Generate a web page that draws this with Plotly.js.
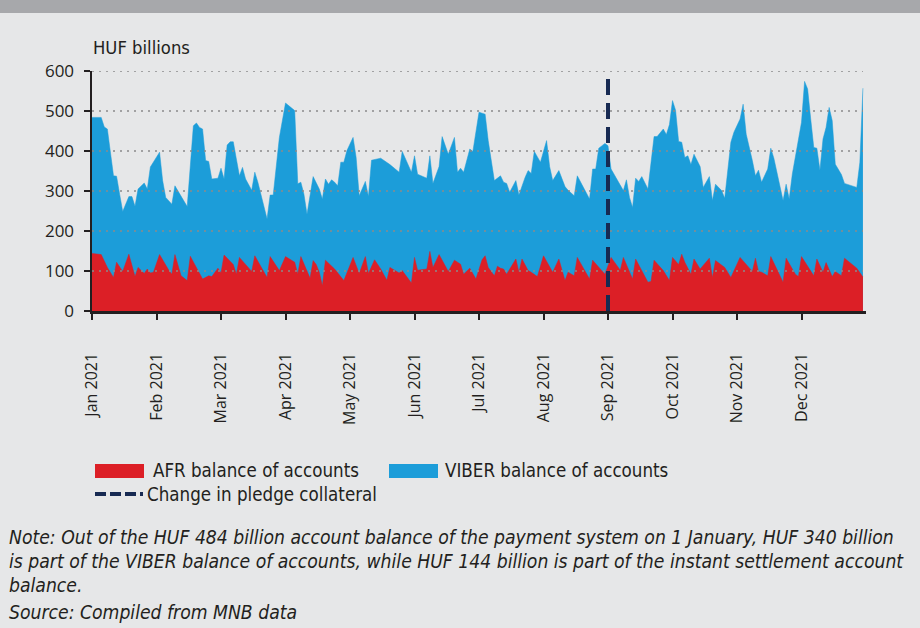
<!DOCTYPE html>
<html><head><meta charset="utf-8">
<script src="https://cdn.plot.ly/plotly-3.0.1.min.js"></script>
<style>html,body{margin:0;padding:0;background:#e6e7e8;overflow:hidden}#chart{width:920px;height:628px}</style>
</head><body><div id="chart"></div>
<script>
// Month tick labels (category axis of business days, one tick every 21 business days)
const monthLabels = ['Jan 2021','Feb 2021','Mar 2021','Apr 2021','May 2021','Jun 2021','Jul 2021','Aug 2021','Sep 2021','Oct 2021','Nov 2021','Dec 2021'];
const monthTickDays = [0,21,42,63,84,105,126,147,168,189,210,231];
const lastDay = [252];

// AFR (instant settlement) balance of accounts, HUF billions, by business day
const afrDay = [0,3,5,7,8,10,12,14,15,17,18,19,20,22,25,26,27,29,31,32,36,38,39,41,42,43,46,47,48,52,53,57,58,61,63,66,67,68,71,72,73,74,75,76,79,82,85,87,89,90,92,94,96,97,100,101,104,105,106,109,110,111,113,116,118,120,121,123,125,127,128,129,131,132,133,134,135,138,139,140,142,143,145,147,150,152,154,155,157,158,162,163,167,169,172,173,176,177,181,182,183,186,188,189,191,192,193,195,196,198,201,202,203,206,208,211,215,216,217,218,220,221,225,226,229,230,231,235,236,238,239,241,242,244,245,249,251];
const afrValue = [144,141,109,84,122,99,142,86,109,94,105,95,97,141,102,92,141,88,76,137,80,88,86,107,95,140,116,92,134,99,138,84,136,101,136,122,92,136,82,126,116,97,63,127,105,76,134,94,136,94,128,105,77,109,95,101,70,134,102,105,149,109,141,99,127,117,92,107,80,128,138,109,88,112,107,105,92,130,97,130,101,97,86,138,97,130,76,97,88,134,80,127,92,134,102,134,80,130,72,74,127,101,76,134,116,142,122,92,130,105,132,84,126,109,84,134,99,132,99,97,88,136,72,132,92,86,136,88,130,97,121,86,99,88,132,107,85];

// Total payment-system balance (AFR + VIBER), HUF billions, by business day
const totalDay = [0,3,4,5,7,8,9,10,12,13,14,15,17,18,19,22,23,24,26,27,31,33,34,35,36,37,38,39,41,42,43,44,45,46,47,48,49,50,52,53,54,55,57,58,59,61,63,66,67,68,69,70,72,74,75,76,77,78,79,80,81,82,83,85,86,87,89,90,91,94,96,97,100,101,104,105,106,109,110,111,113,114,116,118,119,120,121,123,124,126,128,129,131,133,134,135,136,138,139,140,141,142,143,144,146,148,149,150,152,154,155,157,158,162,163,164,165,167,168,169,170,172,173,174,175,176,177,178,179,181,182,183,184,186,187,188,189,190,191,192,193,194,195,196,198,199,201,202,203,205,206,207,208,209,211,212,213,215,216,217,218,220,221,222,225,226,227,228,229,231,232,233,234,235,236,237,238,239,240,241,242,244,245,249,250,251];
const totalValue = [484,484,460,455,338,337,292,249,286,286,262,305,320,305,360,397,326,284,267,313,261,463,470,459,455,376,374,330,332,357,330,415,423,423,380,338,359,330,302,347,322,292,230,290,290,434,520,501,318,322,292,242,336,305,280,330,317,328,322,313,372,372,401,434,384,288,324,286,377,382,372,366,347,399,347,388,342,332,388,319,361,436,392,434,347,357,347,405,399,497,492,426,326,338,322,319,297,326,290,313,334,351,344,399,372,426,361,326,351,311,302,288,338,280,355,355,407,419,413,355,342,317,301,328,284,259,332,324,336,305,376,436,436,455,441,466,526,502,424,422,384,388,366,392,361,309,336,276,317,301,282,359,422,447,480,517,442,376,338,352,322,355,407,382,276,317,280,342,384,472,574,555,480,409,407,352,430,459,509,476,367,341,319,309,372,557];

const yTickValues = [0,100,200,300,400,500,600];
const pledgeChangeDay = [monthTickDays[monthLabels.indexOf('Sep 2021')]];

const RED = '#dc1f26', BLUE = '#1c9dd9', NAVY = '#172a52', INK = '#231f20';
const L = 92, T = 71, W = 774, H = 240;
const px = x => (x - L) / W;
const py = y => (T + H - y) / H;
const condFont = 'DejaVu Sans Condensed, DejaVu Sans, sans-serif';

const traces = [
  {x: totalDay, y: totalValue, type: 'scatter', mode: 'lines', fill: 'tozeroy',
   fillcolor: BLUE, line: {color: BLUE, width: 0.5}, hoverinfo: 'skip', name: 'VIBER balance of accounts'},
  {x: afrDay, y: afrValue, type: 'scatter', mode: 'lines', fill: 'tozeroy',
   fillcolor: RED, line: {color: RED, width: 0.5}, hoverinfo: 'skip', name: 'AFR balance of accounts'}
];

const shapes = [];
// header bar
shapes.push({type: 'rect', xref: 'paper', yref: 'paper', x0: px(0), x1: px(920), y0: py(0), y1: py(13),
  fillcolor: '#a7a8ab', line: {width: 0}, layer: 'below'});
// dotted gridlines above the areas
yTickValues.filter(v => v > 0).forEach(v => shapes.push({type: 'line', xref: 'paper', yref: 'y',
  x0: 0, x1: px(863), y0: v, y1: v, line: {color: '#8a8a8a', width: 1.6, dash: '2px,5px'}, layer: 'above'}));
// pledge collateral change
pledgeChangeDay.forEach(d => shapes.push({type: 'line', xref: 'x', yref: 'y', x0: d, x1: d, y0: 0, y1: yTickValues[yTickValues.length-1],
  line: {color: NAVY, width: 4, dash: '16px,8px'}, layer: 'above'}));
// legend swatches
shapes.push({type: 'rect', xref: 'paper', yref: 'paper', x0: px(95), x1: px(144), y0: py(478), y1: py(464), fillcolor: RED, line: {width: 0}});
shapes.push({type: 'rect', xref: 'paper', yref: 'paper', x0: px(389), x1: px(438), y0: py(478), y1: py(464), fillcolor: BLUE, line: {width: 0}});
shapes.push({type: 'line', xref: 'paper', yref: 'paper', x0: px(95), x1: px(143), y0: py(494), y1: py(494), line: {color: NAVY, width: 4, dash: '11px,4px'}});

const ann = (text, x, y, size, extra) => Object.assign({text: text, xref: 'paper', yref: 'paper', x: px(x), y: py(y),
  xanchor: 'left', yanchor: 'middle', showarrow: false, font: {family: condFont, size: size, color: INK}}, extra || {});
const annotations = [
  ann('HUF billions', 91, 48, 18.3),
  ann('AFR balance of accounts', 151, 471, 18.6),
  ann('VIBER balance of accounts', 443, 471, 18.6),
  ann('Change in pledge collateral', 145, 494, 18.6),
  ann('<i>Note: Out of the HUF 484 billion account balance of the payment system on 1 January, HUF 340 billion</i>', 7, 537, 19.2),
  ann('<i>is part of the VIBER balance of accounts, while HUF 144 billion is part of the instant settlement account</i>', 7, 561, 19.2),
  ann('<i>balance.</i>', 7, 585, 19.2),
  ann('<i>Source: Compiled from MNB data</i>', 7, 612, 19.2)
];

const layout = {
  width: 920, height: 628, autosize: false,
  margin: {l: L, r: 920 - L - W, t: T, b: 628 - T - H, pad: 0},
  paper_bgcolor: '#e6e7e8', plot_bgcolor: 'rgba(0,0,0,0)',
  showlegend: false,
  xaxis: {range: [0, lastDay[0]], tickmode: 'array', tickvals: monthTickDays, ticktext: monthLabels,
    tickangle: -90, ticks: 'outside', ticklen: 6, tickwidth: 2, tickcolor: INK,
    showline: true, linecolor: INK, linewidth: 2.5, showgrid: false, zeroline: false,
    tickfont: {family: 'Open Sans, sans-serif', size: 16, color: INK}, ticklabelstandoff: 27, layer: 'above traces'},
  yaxis: {range: [0, 600], tickmode: 'array', tickvals: yTickValues, ticks: 'outside', ticklen: 6, tickwidth: 2,
    tickcolor: INK, showline: true, linecolor: INK, linewidth: 2.5, showgrid: false, zeroline: false,
    tickfont: {family: 'Open Sans, sans-serif', size: 17, color: INK}, ticklabelstandoff: 6, layer: 'above traces'},
  shapes: shapes,
  annotations: annotations
};

Plotly.newPlot('chart', traces, layout, {staticPlot: true, displayModeBar: false});
</script></body></html>
